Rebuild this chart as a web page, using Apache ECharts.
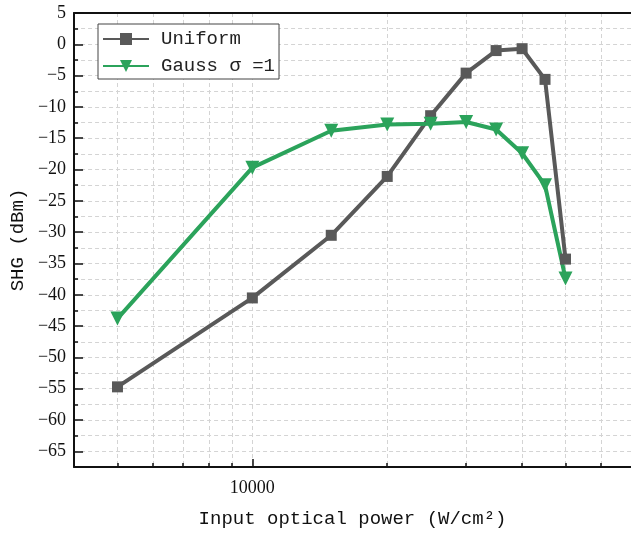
<!DOCTYPE html>
<html>
<head>
<meta charset="utf-8">
<script src="https://cdn.jsdelivr.net/npm/echarts@6/dist/echarts.min.js"></script>
<style>
  html, body { margin: 0; padding: 0; background: #fff; }
  #chart { width: 631px; height: 534px; }
</style>
</head>
<body>
<div id="chart"></div>
<script>
// input optical power (W/cm2)
const power = [5000, 10000, 15000, 20000, 25000, 30000, 35000, 40000, 45000, 50000];
// SHG (dBm)
const uniform = [-54.7, -40.5, -30.5, -21.1, -11.4, -4.6, -1.0, -0.7, -5.6, -34.3];
const gauss = [-43.8, -19.7, -13.8, -12.8, -12.7, -12.4, -13.6, -17.4, -22.5, -37.4];

const xMinorTicks = [5000, 6000, 7000, 8000, 9000, 10000, 20000, 30000, 40000, 50000, 60000];
const xMajorTicks = [10000];
const yMajorTicks = [5, 0, -5, -10, -15, -20, -25, -30, -35, -40, -45, -50, -55, -60, -65];

const serif = 'Liberation Serif';
const mono = 'Liberation Mono';

const pairs = (ys) => power.map((x, i) => [x, ys[i]]);

const chart = echarts.init(document.getElementById('chart'));

const xBase = {
    type: 'log',
    logBase: 10,
    min: 4000,
    max: 70000,
    gridIndex: 0
};
const yBase = {
    type: 'value',
    min: -67.5,
    max: 5
};

const option = {
    animation: false,
    grid: { left: 72, right: 0, top: 13, bottom: 67 },
    legend: {
        orient: 'vertical',
        left: 98,
        top: 24,
        padding: [5, 4, 3, 4],
        itemGap: 7,
        itemWidth: 46,
        itemHeight: 15,
        borderColor: '#444',
        borderWidth: 1,
        backgroundColor: '#fff',
        textStyle: { fontFamily: mono, fontSize: 19, color: '#222', lineHeight: 20, padding: [0, 0, 0, 7] },
        data: ['Uniform', 'Gauss σ =1']
    },
    xAxis: [
        Object.assign({}, xBase, {
            position: 'bottom',
            axisLine: { show: true, onZero: false, lineStyle: { color: '#111', width: 2 } },
            axisTick: { show: true, inside: true, length: 4, customValues: xMinorTicks, lineStyle: { color: '#111', width: 1.5 } },
            axisLabel: { show: false },
            splitLine: { show: true, lineStyle: { color: '#d4d4d4', type: [4, 3], width: 1 } }
        }),
        Object.assign({}, xBase, {
            position: 'bottom',
            axisLine: { show: false, onZero: false },
            axisTick: { show: true, inside: true, length: 8, customValues: xMajorTicks, lineStyle: { color: '#111', width: 1.5 } },
            axisLabel: { show: true, customValues: xMajorTicks, margin: 12, fontFamily: serif, fontSize: 18, color: '#111', formatter: (v) => String(Math.round(v)) },
            splitLine: { show: false },
            name: 'Input optical power (W/cm²)',
            nameLocation: 'middle',
            nameGap: 42,
            nameTextStyle: { fontFamily: mono, fontSize: 19, color: '#111' }
        }),
        Object.assign({}, xBase, {
            position: 'top',
            axisLine: { show: true, onZero: false, lineStyle: { color: '#111', width: 2 } },
            axisTick: { show: false },
            axisLabel: { show: false },
            splitLine: { show: false }
        })
    ],
    yAxis: [
        Object.assign({}, yBase, {
            position: 'left',
            interval: 2.5,
            axisLine: { show: true, onZero: false, lineStyle: { color: '#111', width: 2 } },
            axisTick: { show: true, inside: true, length: 4, lineStyle: { color: '#111', width: 1.5 } },
            axisLabel: { show: false },
            splitLine: { show: true, lineStyle: { color: '#d4d4d4', type: [4, 3], width: 1 } }
        }),
        Object.assign({}, yBase, {
            position: 'left',
            axisLine: { show: false, onZero: false },
            axisTick: { show: true, inside: true, length: 9, customValues: yMajorTicks, lineStyle: { color: '#111', width: 1.5 } },
            axisLabel: {
                show: true,
                customValues: yMajorTicks,
                margin: 8,
                fontFamily: serif,
                fontSize: 18,
                color: '#111',
                formatter: (v) => String(v).replace('-', '\u2212')
            },
            splitLine: { show: false },
            name: 'SHG (dBm)',
            nameLocation: 'middle',
            nameGap: 44,
            nameTextStyle: { fontFamily: mono, fontSize: 19, color: '#111' }
        })
    ],
    series: [
        {
            name: 'Uniform',
            type: 'line',
            xAxisIndex: 0,
            yAxisIndex: 0,
            data: pairs(uniform),
            symbol: 'rect',
            symbolSize: 11,
            lineStyle: { color: '#595959', width: 4 },
            itemStyle: { color: '#595959' }
        },
        {
            name: 'Gauss σ =1',
            type: 'line',
            xAxisIndex: 0,
            yAxisIndex: 0,
            data: pairs(gauss),
            symbol: 'triangle',
            symbolRotate: 180,
            symbolSize: 14,
            lineStyle: { color: '#2ba35b', width: 4 },
            itemStyle: { color: '#2ba35b' }
        }
    ]
};

chart.setOption(option);
</script>
</body>
</html>
